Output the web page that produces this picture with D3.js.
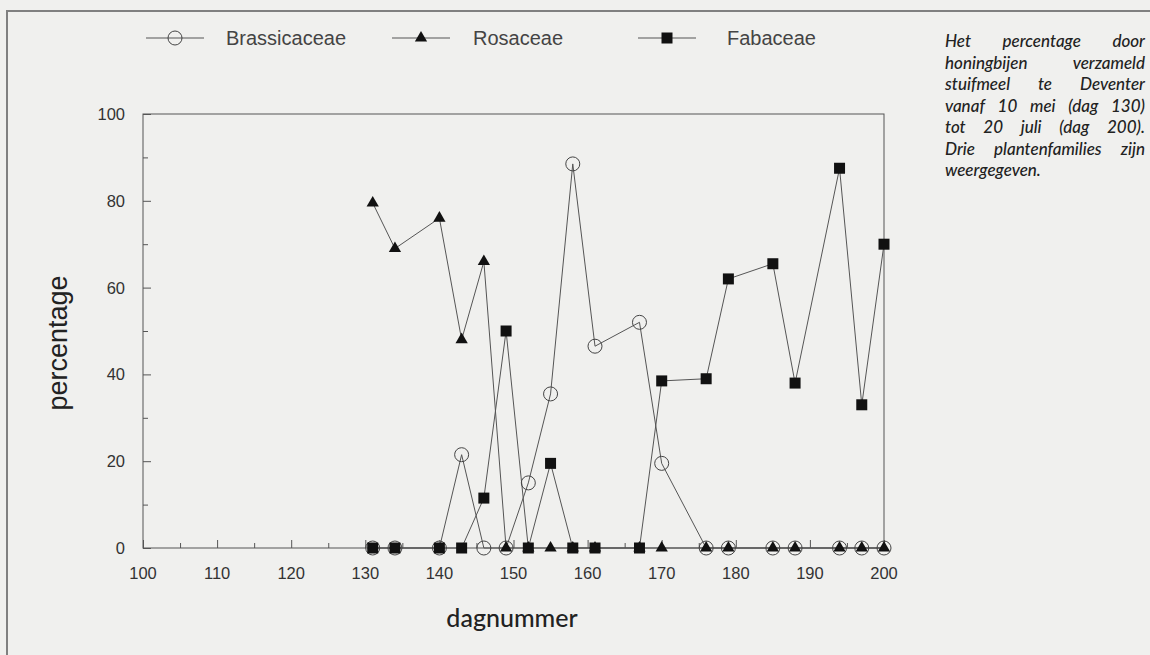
<!DOCTYPE html>
<html>
<head>
<meta charset="utf-8">
<script src="https://cdnjs.cloudflare.com/ajax/libs/d3/7.8.5/d3.min.js"></script>
<style>
  body { margin: 0; background: #f0f0ee; }
  svg { display: block; }
</style>
</head>
<body>
<svg id="chart" width="1150" height="655"></svg>
<script>
// dagnummer van elke meting
const days = [131, 134, 140, 143, 146, 149, 152, 155, 158, 161, 167, 170, 176, 179, 185, 188, 194, 197, 200];
const brassicaceae = [0, 0, 0, 21.5, 0, 0, 15, 35.5, 88.5, 46.5, 52, 19.5, 0, 0, 0, 0, 0, 0, 0];
const rosaceae = [79.5, 69, 76, 48, 66, 0, 0, 0, 0, 0, 0, 0, 0, 0, 0, 0, 0, 0, 0];
const fabaceae = [0, 0, 0, 0, 11.5, 50, 0, 19.5, 0, 0, 0, 38.5, 39, 62, 65.5, 38, 87.5, 33, 70];

const xTicks = [100, 110, 120, 130, 140, 150, 160, 170, 180, 190, 200];
const yTicks = [0, 20, 40, 60, 80, 100];

const caption = [
  "Het percentage door",
  "honingbijen verzameld",
  "stuifmeel te Deventer",
  "vanaf 10 mei (dag 130)",
  "tot 20 juli (dag 200).",
  "Drie plantenfamilies zijn",
  "weergegeven."
];

const series = [
  { name: "Brassicaceae", values: brassicaceae, shape: "circle" },
  { name: "Rosaceae", values: rosaceae, shape: "triangle" },
  { name: "Fabaceae", values: fabaceae, shape: "square" }
];

const svg = d3.select("svg#chart");

// plot area
const pLeft = 143, pRight = 884, pTop = 114, pBottom = 548;

const x = d3.scaleLinear().domain([100, 200]).range([pLeft, pRight]);
const y = d3.scaleLinear().domain([0, 100]).range([pBottom, pTop]);

// outer frame of the figure (top and left only)
svg.append("path")
  .attr("d", "M7,655 L7,11 L1150,11")
  .attr("fill", "none")
  .attr("stroke", "#808080")
  .attr("stroke-width", 2);

// plot box
svg.append("rect")
  .attr("x", pLeft)
  .attr("y", pTop)
  .attr("width", pRight - pLeft)
  .attr("height", pBottom - pTop)
  .attr("fill", "none")
  .attr("stroke", "#555")
  .attr("stroke-width", 1);

// x axis: ticks pointing inward, every 5 days
const xAxis = d3.axisBottom(x)
  .tickValues(d3.range(100, 201, 5))
  .tickSizeInner(0)
  .tickSizeOuter(0)
  .tickFormat("");
const gx = svg.append("g").attr("transform", "translate(0," + pBottom + ")").call(xAxis);
gx.select(".domain").remove();
gx.selectAll(".tick line")
  .attr("y2", d => d % 10 === 0 ? -8 : -5)
  .attr("stroke", "#555");

svg.append("g").selectAll("text")
  .data(xTicks)
  .join("text")
  .attr("x", d => x(d))
  .attr("y", pBottom + 31)
  .attr("text-anchor", "middle")
  .attr("font-family", "Liberation Sans, Arial, sans-serif")
  .attr("font-size", 16.5)
  .attr("fill", "#333")
  .text(d => d);

// y axis: ticks pointing inward, every 10
const yAxis = d3.axisLeft(y)
  .tickValues(d3.range(0, 101, 10))
  .tickSizeInner(0)
  .tickSizeOuter(0)
  .tickFormat("");
const gy = svg.append("g").attr("transform", "translate(" + pLeft + ",0)").call(yAxis);
gy.select(".domain").remove();
gy.selectAll(".tick line")
  .attr("x2", d => d % 20 === 0 ? 8 : 5)
  .attr("stroke", "#555");

svg.append("g").selectAll("text")
  .data(yTicks)
  .join("text")
  .attr("x", pLeft - 18)
  .attr("y", d => y(d) + 6)
  .attr("text-anchor", "end")
  .attr("font-family", "Liberation Sans, Arial, sans-serif")
  .attr("font-size", 16.5)
  .attr("fill", "#333")
  .text(d => d);

// axis titles
svg.append("text")
  .attr("transform", "translate(67,343) rotate(-90)")
  .attr("text-anchor", "middle")
  .attr("font-family", "Liberation Sans, Arial, sans-serif")
  .attr("font-size", 27)
  .attr("fill", "#222")
  .text("percentage");

svg.append("text")
  .attr("x", 512)
  .attr("y", 627)
  .attr("text-anchor", "middle")
  .attr("font-family", "Lato, sans-serif")
  .attr("font-weight", 500)
  .attr("font-size", 25)
  .attr("fill", "#222")
  .text("dagnummer");

// markers
function marker(g, shape, cx, cy) {
  if (shape === "circle") {
    g.append("circle")
      .attr("cx", cx).attr("cy", cy).attr("r", 7)
      .attr("fill", "none").attr("stroke", "#444").attr("stroke-width", 1);
  } else {
    const sym = shape === "triangle" ? d3.symbolTriangle : d3.symbolSquare;
    const size = shape === "triangle" ? 65 : 121;
    g.append("path")
      .attr("d", d3.symbol(sym, size)())
      .attr("transform", "translate(" + cx + "," + cy + ")")
      .attr("fill", "#111");
  }
}

const line = d3.line().x(d => x(d[0])).y(d => y(d[1]));

series.forEach(s => {
  const pts = days.map((d, i) => [d, s.values[i]]);
  svg.append("path")
    .datum(pts)
    .attr("d", line)
    .attr("fill", "none")
    .attr("stroke", "#555")
    .attr("stroke-width", 1);
});

series.forEach(s => {
  const g = svg.append("g");
  days.forEach((d, i) => marker(g, s.shape, x(d), y(s.values[i])));
});

// legend
const legendY = 38;
const legendX = [146, 392, 638];
const legendTextX = [226, 473, 727];
series.forEach((s, i) => {
  const lx = legendX[i];
  svg.append("line")
    .attr("x1", lx).attr("x2", lx + 58)
    .attr("y1", legendY).attr("y2", legendY)
    .attr("stroke", "#555").attr("stroke-width", 1);
  const g = svg.append("g");
  marker(g, s.shape, lx + 29, legendY);
  svg.append("text")
    .attr("x", legendTextX[i])
    .attr("y", legendY + 7)
    .attr("font-family", "Liberation Sans, Arial, sans-serif")
    .attr("font-size", 20)
    .attr("fill", "#444")
    .text(s.name);
});

// caption on the right, justified word by word
const capLeft = 945, capWidth = 200;
const capFont = { family: "Lato, sans-serif", weight: 500 };

// size the font so that the line with normal spacing fills the column
const probe = svg.append("text")
  .attr("font-family", capFont.family).attr("font-style", "italic")
  .attr("font-weight", capFont.weight).attr("font-size", 16)
  .text(caption[5]);
const capSize = Math.min(17, 16 * capWidth / probe.node().getComputedTextLength());
probe.remove();

caption.forEach((t, i) => {
  const words = t.split(" ");
  const ty = 47 + i * 21.5;
  const nodes = words.map(w => svg.append("text")
    .attr("y", ty)
    .attr("font-family", capFont.family)
    .attr("font-style", "italic")
    .attr("font-weight", capFont.weight)
    .attr("font-size", capSize)
    .attr("fill", "#222")
    .text(w));
  const widths = nodes.map(n => n.node().getComputedTextLength());
  const total = d3.sum(widths);
  const last = i === caption.length - 1;
  const gap = (last || words.length < 2) ? capSize * 0.25 : (capWidth - total) / (words.length - 1);
  let cx = capLeft;
  nodes.forEach((n, k) => {
    n.attr("x", cx);
    cx += widths[k] + gap;
  });
});
</script>
</body>
</html>
